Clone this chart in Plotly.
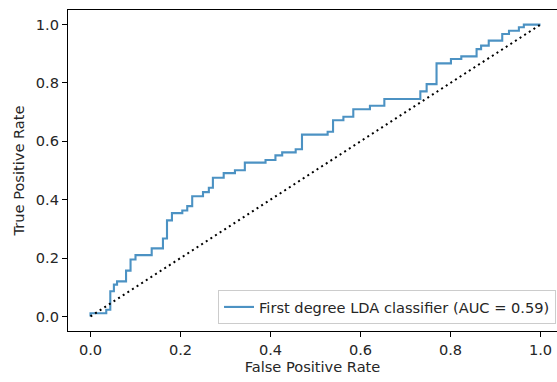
import plotly.graph_objects as go

# ROC curve corner points (step curve, horizontal then vertical)
fpr = [0, 0, 0.035, 0.044, 0.052, 0.059, 0.079, 0.089, 0.1, 0.136,
       0.161, 0.170, 0.181, 0.204, 0.215, 0.226, 0.25, 0.263, 0.272, 0.296,
       0.321, 0.343, 0.389, 0.411, 0.426, 0.456, 0.470, 0.527, 0.539, 0.562,
       0.584, 0.621, 0.653, 0.733, 0.747, 0.769, 0.801, 0.824, 0.858, 0.868,
       0.885, 0.915, 0.930, 0.952, 0.963, 1.0]
tpr = [0, 0.011, 0.023, 0.086, 0.109, 0.12, 0.157, 0.195, 0.21, 0.233,
       0.267, 0.329, 0.354, 0.363, 0.378, 0.412, 0.426, 0.441, 0.475, 0.491,
       0.501, 0.527, 0.536, 0.552, 0.562, 0.573, 0.623, 0.633, 0.672, 0.684,
       0.710, 0.722, 0.745, 0.771, 0.796, 0.867, 0.882, 0.891, 0.916, 0.928,
       0.945, 0.968, 0.979, 0.991, 1.0, 1.0]

chance_x = [0, 1]
chance_y = [0, 1]

tick_vals = [0.0, 0.2, 0.4, 0.6, 0.8, 1.0]
tick_text = ["0.0", "0.2", "0.4", "0.6", "0.8", "1.0"]

label = "First degree LDA classifier (AUC = 0.59)"

FONT = "DejaVu Sans"
FS = 14.6
TXT = "#262626"

fig = go.Figure()
fig.add_trace(go.Scatter(
    x=fpr, y=tpr, mode="lines", line_shape="hv",
    line=dict(color="rgba(31,119,180,0.8)", width=2.1),
    name=label, showlegend=True))
fig.add_trace(go.Scatter(
    x=chance_x, y=chance_y, mode="lines",
    line=dict(color="black", width=2, dash="2px,3.5px"),
    showlegend=False))

axis_common = dict(
    showgrid=False, zeroline=False, showline=True, linecolor="black",
    linewidth=1.1, ticks="outside", ticklen=5, tickwidth=1.1,
    tickcolor="black", tickvals=tick_vals, ticktext=tick_text,
    tickfont=dict(family=FONT, size=FS, color=TXT),
)

fig.update_layout(
    width=557, height=382,
    margin=dict(l=68, r=0, t=10, b=51, pad=0),
    paper_bgcolor="white", plot_bgcolor="white",
    font=dict(family=FONT, size=FS, color=TXT),
    xaxis=dict(range=[-0.05, 1.0367], mirror=True,
               title=dict(text="False Positive Rate", standoff=5,
                          font=dict(family=FONT, size=FS, color=TXT)),
               **axis_common),
    yaxis=dict(range=[-0.05, 1.05],
               title=dict(text="True Positive Rate", standoff=7,
                          font=dict(family=FONT, size=FS, color=TXT)),
               **axis_common),
    legend=dict(x=0.998, y=0.022, xanchor="right", yanchor="bottom",
                bgcolor="rgba(255,255,255,0.8)", bordercolor="#cccccc",
                borderwidth=1, font=dict(family=FONT, size=FS, color=TXT),
                itemwidth=30),
)

fig.write_html("out.html")
